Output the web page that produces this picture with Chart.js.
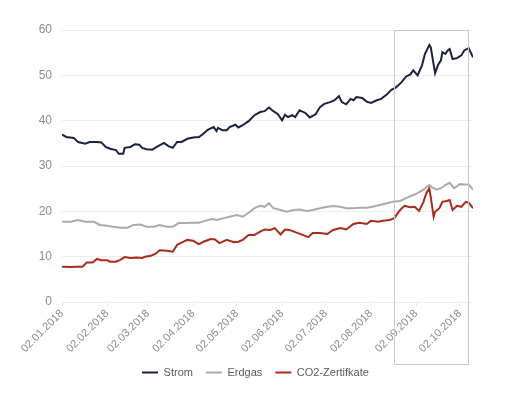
<!DOCTYPE html>
<html>
<head>
<meta charset="utf-8">
<script src="https://cdn.jsdelivr.net/npm/chart.js@4/dist/chart.umd.min.js"></script>
<style>
html,body{margin:0;padding:0;background:#fff;}
#wrap{width:511px;height:393px;}
</style>
</head>
<body>
<div id="wrap"><canvas id="c" width="511" height="393"></canvas></div>
<script>
// Days since 02.01.2018
const tickDays = [0, 31, 59, 90, 120, 151, 181, 212, 243, 273];
const tickLabels = ['02.01.2018','02.02.2018','02.03.2018','02.04.2018','02.05.2018','02.06.2018','02.07.2018','02.08.2018','02.09.2018','02.10.2018'];

const seriesNames = ['Strom', 'Erdgas', 'CO2-Zertifkate'];

const stromDays = [0,3,8,11,16,19,24,27,30,33,37,39,42,43,47,50,53,55,58,62,65,70,73,76,79,82,86,90,94,97,100,104,106,107,110,113,115,119,121,124,128,132,136,139,142,145,148,151,153,155,158,160,163,167,170,174,177,180,184,187,190,192,195,198,200,202,206,209,212,216,219,223,226,229,233,236,239,241,244,247,249,252,253,256,258,260,261,263,265,266,268,271,274,276,279,282];
const stromValues = [36.9,36.4,36.2,35.3,34.9,35.3,35.3,35.2,34.2,33.8,33.5,32.7,32.7,34.0,34.2,34.8,34.7,34.0,33.7,33.6,34.2,35.1,34.4,34.0,35.3,35.3,36.0,36.3,36.4,37.1,38.0,38.6,37.7,38.4,37.9,37.9,38.6,39.1,38.5,39.0,39.9,41.2,41.9,42.1,42.9,42.1,41.5,40.1,41.3,40.8,41.2,40.8,42.3,41.7,40.7,41.4,43.0,43.7,44.1,44.5,45.4,44.1,43.6,44.8,44.5,45.2,45.0,44.2,43.9,44.5,44.8,45.8,46.8,47.3,48.5,49.7,50.2,51.1,50.0,52.2,54.7,56.7,56.2,50.5,52.3,53.3,55.1,54.7,55.6,55.8,53.6,53.8,54.4,55.5,56.0,54.0];

const gasDays = [0,6,11,16,22,26,31,35,40,45,49,54,58,63,67,72,76,80,84,89,94,98,103,106,111,115,120,124,129,132,136,139,142,145,150,154,159,163,168,172,177,182,186,191,195,200,204,209,213,218,223,227,232,236,241,244,248,252,254,257,260,263,266,269,273,276,279,282];
const gasValues = [17.7,17.7,18.1,17.7,17.7,17.0,16.8,16.6,16.4,16.4,17.0,17.1,16.6,16.6,17.0,16.6,16.6,17.4,17.4,17.5,17.5,17.9,18.3,18.1,18.5,18.8,19.2,18.8,19.9,20.7,21.2,21.0,21.8,20.7,20.3,19.9,20.3,20.4,20.1,20.3,20.7,21.0,21.2,21.0,20.7,20.7,20.8,20.8,21.0,21.4,21.8,22.1,22.3,22.9,23.6,24.0,24.8,25.8,25.3,24.8,25.1,25.8,26.3,25.1,26.0,25.9,25.9,24.8];

const co2Days = [0,6,10,14,17,21,24,27,31,33,37,40,43,47,51,55,57,61,64,67,72,76,79,82,86,90,94,97,102,105,108,113,118,121,124,128,132,136,139,143,146,150,153,156,161,165,169,172,177,182,186,191,195,200,204,209,212,217,220,225,228,232,235,239,242,245,248,250,252,253,255,256,259,261,264,266,268,271,274,277,279,282];
const co2Values = [7.8,7.7,7.8,7.8,8.7,8.7,9.5,9.2,9.2,8.9,8.9,9.3,9.9,9.7,9.8,9.7,10.0,10.2,10.6,11.4,11.3,11.1,12.6,13.1,13.7,13.5,12.7,13.3,13.9,13.8,13.0,13.7,13.2,13.3,13.7,14.8,14.8,15.5,16.0,15.9,16.3,14.9,16.0,15.9,15.3,14.8,14.3,15.2,15.2,15.0,15.9,16.3,16.0,17.2,17.5,17.2,17.9,17.7,17.9,18.1,18.5,20.3,21.2,20.9,21.0,20.1,22.1,24.0,25.1,23.2,18.8,19.9,20.7,22.1,22.3,22.5,20.3,21.2,21.0,22.1,21.9,20.7];

// highlighted period (days) and its top value
const highlightFrom = 228;
const highlightTo = 278.5;
const highlightTop = 60;

function pts(days, vals){ return days.map((d,i)=>({x:d, y:vals[i]})); }

const highlightBox = {
  id: 'highlightBox',
  afterDatasetsDraw(chart){
    const xs = chart.scales.x, ys = chart.scales.y;
    const ctx = chart.ctx;
    const l = Math.round(xs.getPixelForValue(highlightFrom)) + 0.5;
    const r = Math.round(xs.getPixelForValue(highlightTo)) + 0.5;
    const t = Math.round(ys.getPixelForValue(highlightTop)) + 0.5;
    const b = Math.round(xs.bottom + 10) + 0.5;
    ctx.save();
    ctx.strokeStyle = '#c9c9c9';
    ctx.lineWidth = 1;
    ctx.strokeRect(l, t, r - l, b - t);
    ctx.restore();
  }
};

const FONT = "'Liberation Sans', Arial, sans-serif";

new Chart(document.getElementById('c'), {
  type: 'line',
  data: {
    datasets: [
      {label: seriesNames[0], data: pts(stromDays, stromValues), borderColor: '#1c2142', backgroundColor: '#1c2142'},
      {label: seriesNames[1], data: pts(gasDays, gasValues), borderColor: '#ababab', backgroundColor: '#ababab'},
      {label: seriesNames[2], data: pts(co2Days, co2Values), borderColor: '#ab2a1c', backgroundColor: '#ab2a1c'}
    ]
  },
  options: {
    responsive: false,
    animation: false,
    layout: {padding: {left: 0, right: 0, top: 30, bottom: 5}},
    elements: {
      line: {borderWidth: 2, tension: 0, fill: false},
      point: {radius: 0, hoverRadius: 0, borderWidth: 2}
    },
    scales: {
      x: {
        type: 'linear',
        min: 0,
        max: 282,
        afterBuildTicks(scale){ scale.ticks = tickDays.map(v => ({value: v})); },
        afterFit(scale){ scale.height = 52; },
        ticks: {
          autoSkip: false,
          maxRotation: 45,
          minRotation: 45,
          padding: 1,
          color: '#8c8c8c',
          font: {family: FONT, size: 11},
          callback: (v) => tickLabels[tickDays.indexOf(v)]
        },
        grid: {drawOnChartArea: false, drawTicks: true, tickLength: 4, color: '#e6e6e6'},
        border: {display: false}
      },
      y: {
        min: 0,
        max: 60,
        afterFit(scale){ scale.width = 62; },
        ticks: {stepSize: 10, padding: 10, color: '#8c8c8c', font: {family: FONT, size: 12}},
        grid: {color: '#eeeeee', drawTicks: false},
        border: {display: false}
      },
      yRight: {
        position: 'right',
        min: 0,
        max: 60,
        afterFit(scale){ scale.width = 38; },
        ticks: {display: false},
        grid: {display: false},
        border: {display: false}
      }
    },
    plugins: {
      legend: {
        position: 'bottom',
        labels: {
          usePointStyle: true,
          pointStyle: 'line',
          pointStyleWidth: 16,
          boxHeight: 2,
          padding: 13,
          color: '#595959',
          font: {family: FONT, size: 11}
        }
      },
      tooltip: {enabled: false}
    }
  },
  plugins: [highlightBox]
});
</script>
</body>
</html>
